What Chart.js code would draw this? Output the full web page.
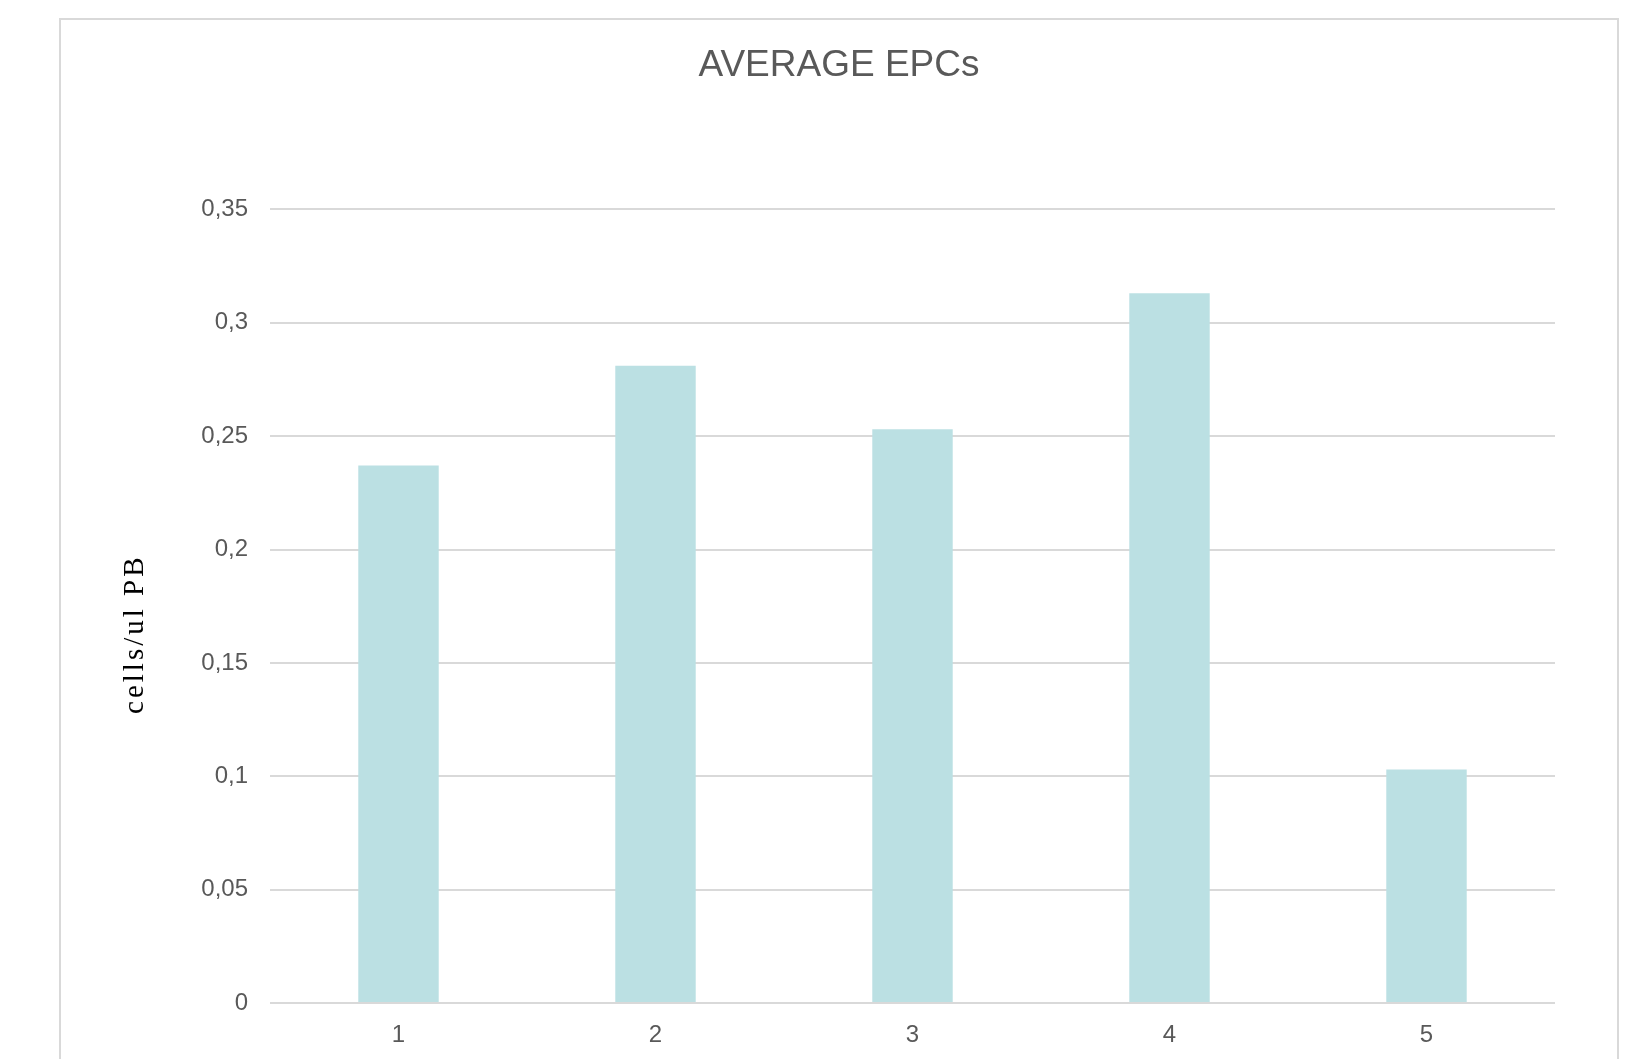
<!DOCTYPE html>
<html>
<head>
<meta charset="utf-8">
<title>AVERAGE EPCs</title>
<script src="https://cdn.jsdelivr.net/npm/chart.js@4"></script>
<style>
    html, body { margin: 0; padding: 0; background: #ffffff; overflow: hidden; }
    #moldura {
        position: absolute;
        left: 59px;
        top: 18px;
        width: 1556px;
        height: 1045px;
        border: 2px solid #d9d9d9;
        border-bottom: none;
    }
    #grafico { display: block; }
</style>
</head>
<body>
<div id="moldura">
    <canvas id="grafico" width="1556" height="1039"></canvas>
</div>
<script>
// Dados do gráfico
const categorias = ['1', '2', '3', '4', '5'];
const mediaEPCs = [0.237, 0.281, 0.253, 0.313, 0.103];
const rotulosY = ['0', '0,05', '0,1', '0,15', '0,2', '0,25', '0,3', '0,35'];

// Cores e fontes
const corBarra = '#bbe0e3';
const corGrade = '#d9d9d9';
const corTexto = '#595959';
const fonteSans = '"Liberation Sans", Arial, sans-serif';

// Título do eixo Y (desenhado à parte por causa do espaçamento das letras)
const tituloEixoY = {
    id: 'tituloEixoY',
    afterDraw(chart) {
        const ctx = chart.ctx;
        const area = chart.chartArea;
        ctx.save();
        ctx.translate(74, (area.top + area.bottom) / 2 + 28);
        ctx.rotate(-Math.PI / 2);
        ctx.font = '29px "Liberation Serif", "Times New Roman", serif';
        ctx.fillStyle = '#000000';
        ctx.letterSpacing = '3px';
        ctx.textAlign = 'center';
        ctx.textBaseline = 'middle';
        ctx.fillText('cells/ul PB', 0, 0);
        ctx.restore();
    }
};

const ctxGrafico = document.getElementById('grafico').getContext('2d');
new Chart(ctxGrafico, {
    type: 'bar',
    data: {
        labels: categorias,
        datasets: [{
            label: 'AVERAGE EPCs',
            data: mediaEPCs,
            backgroundColor: corBarra,
            borderWidth: 0,
            barPercentage: 0.313,
            categoryPercentage: 1,
        }]
    },
    options: {
        responsive: false,
        animation: false,
        layout: {
            padding: { left: 0, right: 0, top: 0, bottom: 0 }
        },
        plugins: {
            legend: { display: false },
            tooltip: { enabled: false },
            title: {
                display: true,
                text: 'AVERAGE EPCs',
                color: corTexto,
                font: { family: fonteSans, size: 37, weight: 'normal', lineHeight: 1.2 },
                padding: { top: 24, bottom: 121 },
            },
        },
        scales: {
            x: {
                grid: { display: false, drawTicks: false },
                border: { display: false },
                ticks: {
                    color: corTexto,
                    font: { family: fonteSans, size: 24 },
                    padding: 18,
                },
                afterFit: (eixo) => { eixo.height = 56; },
            },
            y: {
                min: 0,
                max: 0.35,
                grid: { color: corGrade, lineWidth: 2, drawTicks: false },
                border: { display: false },
                ticks: {
                    stepSize: 0.05,
                    color: corTexto,
                    font: { family: fonteSans, size: 24 },
                    padding: 22,
                    callback: (valor, i) => rotulosY[i],
                },
                afterFit: (eixo) => { eixo.width = 209; },
            },
            // eixo vazio à direita, só para reservar a margem
            margemDireita: {
                position: 'right',
                grid: { display: false, drawTicks: false },
                border: { display: false },
                ticks: { display: false },
                afterFit: (eixo) => { eixo.width = 62; },
            },
        },
    },
    plugins: [tituloEixoY],
});
</script>
</body>
</html>
